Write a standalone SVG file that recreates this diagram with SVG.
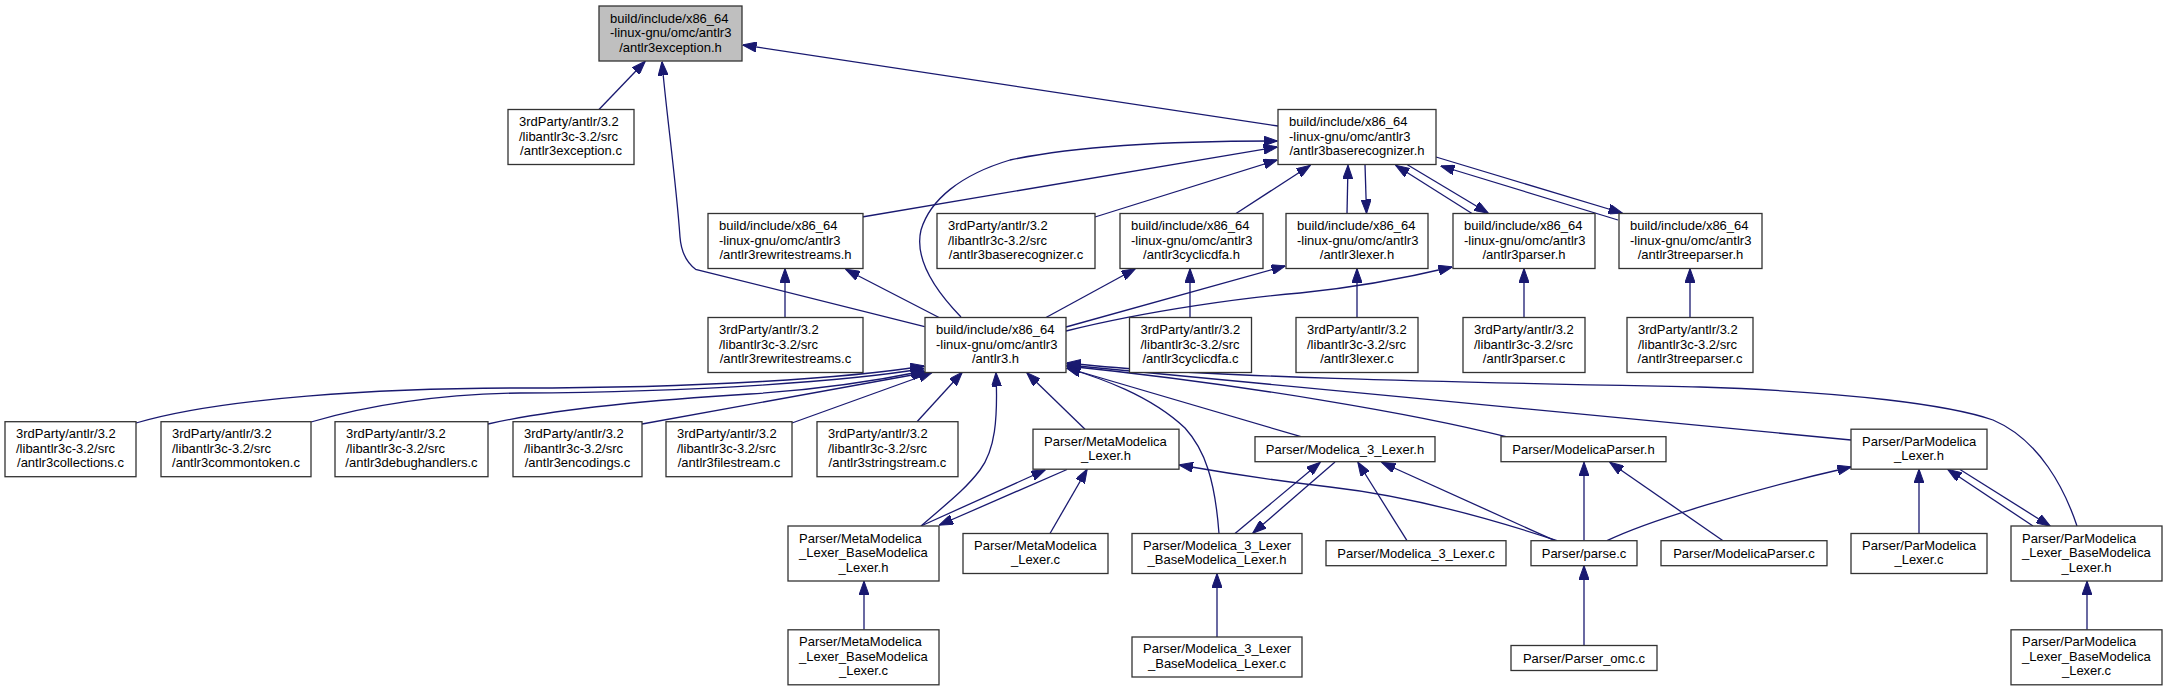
<svg xmlns="http://www.w3.org/2000/svg" width="2167" height="691" viewBox="0 0 2167 691">
<style>
.node rect{fill:#ffffff;stroke:#333333;stroke-width:1.3}
.root rect{fill:#bfbfbf}
text{font-family:"Liberation Sans",Arial,Helvetica,sans-serif;font-size:13px;fill:#000000}
.l{text-anchor:start}
.c{text-anchor:middle}
.edges path{fill:none;stroke:#191970;stroke-width:1.3;marker-end:url(#ah)}
</style>
<defs>
<marker id="ah" markerUnits="userSpaceOnUse" viewBox="0 0 14 10" refX="13.5" refY="5" markerWidth="14" markerHeight="10" orient="auto">
<path d="M0,0 L14,5 L0,10 Z" fill="#191970" stroke="#191970" stroke-width="1"/>
</marker>
</defs>
<rect width="2167" height="691" fill="#ffffff"/>
<g class="edges">
<path d="M599,109.5 L645,61.5"/>
<path d="M924.6,326.7 L695.6,269.3 C686,262 681,250 680,237 C676,180 666,110 662,62"/>
<path d="M1278,126 L743,45"/>
<path d="M862,217 L1277,147"/>
<path d="M961,317 C930,285 915,255 921,230 C930,200 960,175 1010,160 C1080,145 1180,141 1277,141"/>
<path d="M1095,217 L1277,160"/>
<path d="M1236,213.5 L1310,165.5"/>
<path d="M1347,213.5 L1348,165.5"/>
<path d="M1365,164.5 L1366.5,213"/>
<path d="M1472,213.5 L1396,165.5"/>
<path d="M1407,164.5 L1488,213"/>
<path d="M1618,220 L1441,166"/>
<path d="M1436,157 L1622,213"/>
<path d="M785,317.5 L785,269"/>
<path d="M939,317.5 L846,269.5"/>
<path d="M1046,317.5 L1135,269"/>
<path d="M1190,317.5 L1190,269"/>
<path d="M1066,327 L1285,266"/>
<path d="M1066,331 C1150,310 1250,297 1300,293 C1360,287 1410,277 1452,267"/>
<path d="M1357,317.5 L1357,269"/>
<path d="M1524,317.5 L1524,269"/>
<path d="M1690,317.5 L1690,269"/>
<path d="M136,423 C220,398 380,388 520,388 C700,388 850,378 924,366"/>
<path d="M311,422 C380,402 450,394 520,393 C700,392 850,381 924,368.5"/>
<path d="M488,424 C550,410 650,400 750,394 C830,389 885,379 924,371"/>
<path d="M642,424 L926,372.5"/>
<path d="M792,423 L932,372.5"/>
<path d="M917,421.7 L962,372.5"/>
<path d="M921,526 C945,505 965,490 980,470 C995,450 998,420 996,373"/>
<path d="M1085,429.2 L1027,373"/>
<path d="M1219,533.5 C1215,480 1205,450 1185,428 C1150,395 1100,378 1067,368"/>
<path d="M1301,436.7 L1067,368"/>
<path d="M1506,436.7 C1420,415 1250,385 1067,366"/>
<path d="M1851,440 C1700,424 1300,388 1067,365"/>
<path d="M2077,526 C2065,490 2040,440 1993,420 C1950,405 1850,392 1700,387 C1500,383 1200,378 1067,363"/>
<path d="M921,526 L1045,470"/>
<path d="M1067,469.5 L939.5,525"/>
<path d="M1050,533.5 L1087,469.5"/>
<path d="M864,629.8 L864,581.5"/>
<path d="M1557,540.7 C1480,515 1400,495 1330,487 C1270,480 1220,472 1179.5,465"/>
<path d="M1235,533.5 L1320,462.5"/>
<path d="M1335,462 L1253,533"/>
<path d="M1407,540.7 L1358,462.5"/>
<path d="M1555,540.7 L1382,462.5"/>
<path d="M1217,637 L1217,574"/>
<path d="M1584,540.7 L1584,462.5"/>
<path d="M1723,540.7 L1610,462.5"/>
<path d="M1607,540.7 C1650,520 1750,490 1851,467"/>
<path d="M1919,533.5 L1919,469.5"/>
<path d="M2033,526 L1948,469.5"/>
<path d="M1960,469.5 L2050,526"/>
<path d="M2087,629.8 L2087,581.5"/>
<path d="M1584,645.5 L1584,566"/>
</g>
<g id="n0" class="node root"><rect x="599" y="6" width="143" height="55"/><text class="l" x="610" y="22.5">build/include/x86_64</text><text class="l" x="610" y="37">-linux-gnu/omc/antlr3</text><text class="c" x="670.5" y="51.5">/antlr3exception.h</text></g>
<g id="n1" class="node"><rect x="508" y="109.5" width="126" height="55"/><text class="l" x="519" y="126">3rdParty/antlr/3.2</text><text class="l" x="519" y="140.5">/libantlr3c-3.2/src</text><text class="c" x="571" y="155">/antlr3exception.c</text></g>
<g id="n2" class="node"><rect x="1278" y="109.5" width="158" height="55"/><text class="l" x="1289" y="126">build/include/x86_64</text><text class="l" x="1289" y="140.5">-linux-gnu/omc/antlr3</text><text class="c" x="1357" y="155">/antlr3baserecognizer.h</text></g>
<g id="n3" class="node"><rect x="708" y="213.5" width="155" height="55"/><text class="l" x="719" y="230">build/include/x86_64</text><text class="l" x="719" y="244.5">-linux-gnu/omc/antlr3</text><text class="c" x="785.5" y="259">/antlr3rewritestreams.h</text></g>
<g id="n4" class="node"><rect x="937" y="213.5" width="158" height="55"/><text class="l" x="948" y="230">3rdParty/antlr/3.2</text><text class="l" x="948" y="244.5">/libantlr3c-3.2/src</text><text class="c" x="1016" y="259">/antlr3baserecognizer.c</text></g>
<g id="n5" class="node"><rect x="1120" y="213.5" width="143" height="55"/><text class="l" x="1131" y="230">build/include/x86_64</text><text class="l" x="1131" y="244.5">-linux-gnu/omc/antlr3</text><text class="c" x="1191.5" y="259">/antlr3cyclicdfa.h</text></g>
<g id="n6" class="node"><rect x="1286" y="213.5" width="142" height="55"/><text class="l" x="1297" y="230">build/include/x86_64</text><text class="l" x="1297" y="244.5">-linux-gnu/omc/antlr3</text><text class="c" x="1357" y="259">/antlr3lexer.h</text></g>
<g id="n7" class="node"><rect x="1453" y="213.5" width="142" height="55"/><text class="l" x="1464" y="230">build/include/x86_64</text><text class="l" x="1464" y="244.5">-linux-gnu/omc/antlr3</text><text class="c" x="1524" y="259">/antlr3parser.h</text></g>
<g id="n8" class="node"><rect x="1619" y="213.5" width="143" height="55"/><text class="l" x="1630" y="230">build/include/x86_64</text><text class="l" x="1630" y="244.5">-linux-gnu/omc/antlr3</text><text class="c" x="1690.5" y="259">/antlr3treeparser.h</text></g>
<g id="n9" class="node"><rect x="708" y="317.5" width="155" height="55"/><text class="l" x="719" y="334">3rdParty/antlr/3.2</text><text class="l" x="719" y="348.5">/libantlr3c-3.2/src</text><text class="c" x="785.5" y="363">/antlr3rewritestreams.c</text></g>
<g id="n10" class="node"><rect x="925" y="317.5" width="141" height="55"/><text class="l" x="936" y="334">build/include/x86_64</text><text class="l" x="936" y="348.5">-linux-gnu/omc/antlr3</text><text class="c" x="995.5" y="363">/antlr3.h</text></g>
<g id="n11" class="node"><rect x="1129.5" y="317.5" width="122" height="55"/><text class="l" x="1140.5" y="334">3rdParty/antlr/3.2</text><text class="l" x="1140.5" y="348.5">/libantlr3c-3.2/src</text><text class="c" x="1190.5" y="363">/antlr3cyclicdfa.c</text></g>
<g id="n12" class="node"><rect x="1296" y="317.5" width="122" height="55"/><text class="l" x="1307" y="334">3rdParty/antlr/3.2</text><text class="l" x="1307" y="348.5">/libantlr3c-3.2/src</text><text class="c" x="1357" y="363">/antlr3lexer.c</text></g>
<g id="n13" class="node"><rect x="1463" y="317.5" width="122" height="55"/><text class="l" x="1474" y="334">3rdParty/antlr/3.2</text><text class="l" x="1474" y="348.5">/libantlr3c-3.2/src</text><text class="c" x="1524" y="363">/antlr3parser.c</text></g>
<g id="n14" class="node"><rect x="1627" y="317.5" width="126" height="55"/><text class="l" x="1638" y="334">3rdParty/antlr/3.2</text><text class="l" x="1638" y="348.5">/libantlr3c-3.2/src</text><text class="c" x="1690" y="363">/antlr3treeparser.c</text></g>
<g id="n15" class="node"><rect x="5" y="421.7" width="131" height="55"/><text class="l" x="16" y="438.2">3rdParty/antlr/3.2</text><text class="l" x="16" y="452.7">/libantlr3c-3.2/src</text><text class="c" x="70.5" y="467.2">/antlr3collections.c</text></g>
<g id="n16" class="node"><rect x="161" y="421.7" width="150" height="55"/><text class="l" x="172" y="438.2">3rdParty/antlr/3.2</text><text class="l" x="172" y="452.7">/libantlr3c-3.2/src</text><text class="c" x="236" y="467.2">/antlr3commontoken.c</text></g>
<g id="n17" class="node"><rect x="335" y="421.7" width="153" height="55"/><text class="l" x="346" y="438.2">3rdParty/antlr/3.2</text><text class="l" x="346" y="452.7">/libantlr3c-3.2/src</text><text class="c" x="411.5" y="467.2">/antlr3debughandlers.c</text></g>
<g id="n18" class="node"><rect x="513" y="421.7" width="129" height="55"/><text class="l" x="524" y="438.2">3rdParty/antlr/3.2</text><text class="l" x="524" y="452.7">/libantlr3c-3.2/src</text><text class="c" x="577.5" y="467.2">/antlr3encodings.c</text></g>
<g id="n19" class="node"><rect x="666" y="421.7" width="126" height="55"/><text class="l" x="677" y="438.2">3rdParty/antlr/3.2</text><text class="l" x="677" y="452.7">/libantlr3c-3.2/src</text><text class="c" x="729" y="467.2">/antlr3filestream.c</text></g>
<g id="n20" class="node"><rect x="817" y="421.7" width="141" height="55"/><text class="l" x="828" y="438.2">3rdParty/antlr/3.2</text><text class="l" x="828" y="452.7">/libantlr3c-3.2/src</text><text class="c" x="887.5" y="467.2">/antlr3stringstream.c</text></g>
<g id="n21" class="node"><rect x="1033" y="429.2" width="146" height="40"/><text class="l" x="1044" y="445.5">Parser/MetaModelica</text><text class="c" x="1106" y="460">_Lexer.h</text></g>
<g id="n22" class="node"><rect x="1255" y="436.7" width="180" height="25"/><text class="c" x="1345" y="453.7">Parser/Modelica_3_Lexer.h</text></g>
<g id="n23" class="node"><rect x="1501" y="436.7" width="165" height="25"/><text class="c" x="1583.5" y="453.7">Parser/ModelicaParser.h</text></g>
<g id="n24" class="node"><rect x="1851" y="429.2" width="136" height="40"/><text class="l" x="1862" y="445.5">Parser/ParModelica</text><text class="c" x="1919" y="460">_Lexer.h</text></g>
<g id="n25" class="node"><rect x="788" y="526" width="151" height="55"/><text class="l" x="799" y="542.5">Parser/MetaModelica</text><text class="l" x="799" y="557">_Lexer_BaseModelica</text><text class="c" x="863.5" y="571.5">_Lexer.h</text></g>
<g id="n26" class="node"><rect x="963" y="533.5" width="145" height="40"/><text class="l" x="974" y="549.8">Parser/MetaModelica</text><text class="c" x="1035.5" y="564.3">_Lexer.c</text></g>
<g id="n27" class="node"><rect x="1132" y="533.5" width="170" height="40"/><text class="l" x="1143" y="549.8">Parser/Modelica_3_Lexer</text><text class="c" x="1217" y="564.3">_BaseModelica_Lexer.h</text></g>
<g id="n28" class="node"><rect x="1326" y="540.7" width="180" height="25"/><text class="c" x="1416" y="557.7">Parser/Modelica_3_Lexer.c</text></g>
<g id="n29" class="node"><rect x="1531" y="540.7" width="106" height="25"/><text class="c" x="1584" y="557.7">Parser/parse.c</text></g>
<g id="n30" class="node"><rect x="1661" y="540.7" width="166" height="25"/><text class="c" x="1744" y="557.7">Parser/ModelicaParser.c</text></g>
<g id="n31" class="node"><rect x="1851" y="533.5" width="136" height="40"/><text class="l" x="1862" y="549.8">Parser/ParModelica</text><text class="c" x="1919" y="564.3">_Lexer.c</text></g>
<g id="n32" class="node"><rect x="2011" y="526" width="151" height="55"/><text class="l" x="2022" y="542.5">Parser/ParModelica</text><text class="l" x="2022" y="557">_Lexer_BaseModelica</text><text class="c" x="2086.5" y="571.5">_Lexer.h</text></g>
<g id="n33" class="node"><rect x="788" y="629.8" width="151" height="55"/><text class="l" x="799" y="646.3">Parser/MetaModelica</text><text class="l" x="799" y="660.8">_Lexer_BaseModelica</text><text class="c" x="863.5" y="675.3">_Lexer.c</text></g>
<g id="n34" class="node"><rect x="1132" y="637" width="170" height="40"/><text class="l" x="1143" y="653.3">Parser/Modelica_3_Lexer</text><text class="c" x="1217" y="667.8">_BaseModelica_Lexer.c</text></g>
<g id="n35" class="node"><rect x="1511" y="645.5" width="146" height="25"/><text class="c" x="1584" y="662.5">Parser/Parser_omc.c</text></g>
<g id="n36" class="node"><rect x="2011" y="629.8" width="151" height="55"/><text class="l" x="2022" y="646.3">Parser/ParModelica</text><text class="l" x="2022" y="660.8">_Lexer_BaseModelica</text><text class="c" x="2086.5" y="675.3">_Lexer.c</text></g>
</svg>
